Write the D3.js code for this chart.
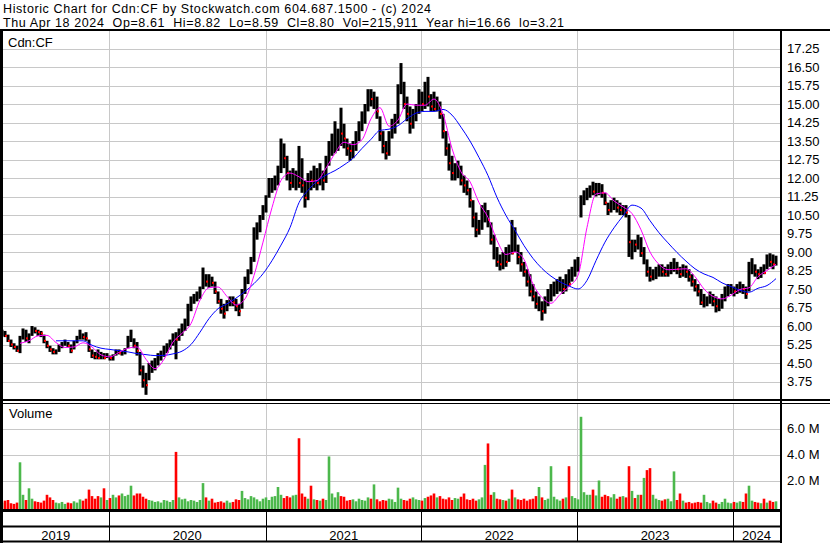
<!DOCTYPE html>
<html><head><meta charset="utf-8">
<script src="https://cdn.jsdelivr.net/npm/d3@7"></script>
<style>
body{margin:0;background:#fff}
svg{display:block}
text{font-family:Arial,"Liberation Sans",sans-serif;font-size:13px;fill:#000;white-space:pre}
text.hdr{font-size:12.5px;letter-spacing:0.6px}
</style>
</head><body><svg id="c" width="830" height="543"></svg>
<script>
// ---- DATA (one bar per ~week) ----
const highs = [5.85,5.80,5.65,5.45,5.30,5.20,5.60,5.90,5.85,5.70,6.00,5.95,5.85,5.80,5.65,5.40,5.20,5.10,5.05,5.25,5.35,5.45,5.35,5.25,5.40,5.60,5.85,5.70,5.75,5.45,
5.05,4.95,5.05,4.95,4.90,4.90,4.80,4.85,5.05,5.05,5.00,5.10,5.60,5.85,5.50,5.35,4.95,4.40,4.10,4.50,4.60,4.70,4.90,5.00,5.20,5.30,5.45,5.70,5.75,5.90,
6.10,6.30,6.90,7.20,7.30,7.40,7.60,8.37,8.10,8.10,8.00,7.80,7.40,7.10,6.90,7.05,7.20,7.20,7.10,6.90,7.50,8.00,8.30,8.80,10.00,10.20,10.50,10.90,11.30,12.00,
12.00,12.10,12.50,13.60,13.40,12.90,12.30,12.40,12.30,13.30,12.80,11.90,12.20,12.30,12.50,12.40,12.60,12.30,12.90,13.50,13.80,14.30,14.00,14.85,14.20,13.60,13.40,13.50,13.90,14.30,
14.70,15.00,15.60,15.60,15.50,15.30,14.50,13.90,13.50,13.90,14.40,14.60,15.80,16.66,15.90,15.30,14.90,14.80,15.00,15.60,15.50,15.90,16.10,15.40,15.50,15.30,15.10,14.60,13.90,13.40,
12.90,12.60,12.70,12.50,12.10,11.90,11.60,11.10,10.60,10.30,10.90,11.00,10.70,10.20,9.70,9.20,8.90,9.00,9.20,9.30,10.30,10.00,9.30,9.00,8.60,8.30,8.10,7.70,7.40,7.20,
7.00,7.20,7.50,7.70,7.80,7.90,8.00,7.90,8.10,8.30,8.40,8.70,8.80,11.30,11.50,11.60,11.70,11.85,11.80,11.80,11.75,11.40,11.00,11.10,11.20,11.10,11.00,10.90,10.90,10.50,
9.50,9.50,9.70,9.60,9.20,8.70,8.40,8.30,8.40,8.50,8.50,8.40,8.50,8.60,8.75,8.60,8.40,8.50,8.45,8.30,8.10,7.90,7.70,7.50,7.30,7.20,7.40,7.30,7.20,7.10,
7.30,7.60,7.70,7.70,7.60,7.70,7.80,7.70,7.60,8.60,8.75,8.50,8.30,8.40,8.50,8.90,8.95,8.90,8.85];
const lows = [5.60,5.55,5.35,5.15,5.05,4.95,4.90,5.45,5.35,5.30,5.60,5.70,5.60,5.55,5.30,5.10,4.95,4.85,4.85,4.95,5.10,5.20,5.15,4.90,5.05,5.30,5.45,5.45,5.40,4.95,
4.70,4.65,4.65,4.65,4.65,4.70,4.60,4.60,4.80,4.85,4.80,4.85,5.10,5.35,5.10,4.80,4.00,3.50,3.21,3.80,4.10,4.20,4.40,4.60,4.75,4.90,5.05,5.20,4.65,5.40,
5.60,5.80,6.00,6.60,6.90,7.00,7.10,7.50,7.60,7.55,7.60,7.30,6.90,6.50,6.30,6.60,6.80,6.80,6.60,6.40,6.70,7.30,7.70,8.10,8.60,9.50,9.80,10.30,10.60,11.20,
11.40,11.50,11.70,12.20,12.40,11.90,11.50,11.60,11.50,11.60,11.40,10.80,11.10,11.50,11.60,11.50,11.70,11.50,11.80,12.50,12.90,13.00,13.10,13.30,13.20,12.90,12.70,12.80,13.10,13.50,
13.90,14.20,14.70,14.90,14.80,14.40,13.50,13.00,12.75,12.90,13.60,13.80,14.20,15.40,14.80,14.30,13.80,14.00,14.30,14.60,14.70,14.80,14.90,14.70,14.70,14.70,14.40,13.60,12.90,12.30,
11.90,11.90,12.00,11.70,11.40,11.30,10.80,10.00,9.60,9.70,9.90,10.20,10.00,9.30,8.70,8.40,8.25,8.30,8.40,8.60,8.90,9.00,8.50,8.20,8.00,7.60,7.20,7.00,6.70,6.60,
6.22,6.50,6.80,7.00,7.20,7.30,7.40,7.30,7.40,7.60,7.80,8.00,8.20,10.40,10.90,11.10,11.20,11.30,11.25,11.30,11.20,10.90,10.50,10.60,10.70,10.60,10.50,10.50,10.40,8.80,
8.70,9.00,9.10,8.80,8.50,8.00,7.80,7.85,7.90,8.00,8.00,8.00,8.00,8.10,8.20,8.10,7.95,8.00,7.95,7.80,7.60,7.40,7.20,6.85,6.75,6.80,6.90,6.80,6.55,6.60,
6.70,7.00,7.20,7.30,7.20,7.30,7.35,7.30,7.10,7.40,8.10,8.00,7.90,7.95,8.10,8.30,8.40,8.30,8.45];
const closes = [5.75,5.60,5.40,5.25,5.15,5.00,5.50,5.70,5.50,5.60,5.90,5.80,5.75,5.70,5.40,5.20,5.05,4.95,4.95,5.15,5.30,5.35,5.20,5.00,5.30,5.50,5.60,5.55,5.50,5.05,
4.80,4.75,4.70,4.75,4.70,4.80,4.70,4.75,4.95,4.90,4.95,5.00,5.40,5.60,5.20,5.00,4.20,3.80,3.60,4.20,4.40,4.60,4.70,4.85,5.00,5.20,5.30,5.60,5.45,5.70,
5.90,6.10,6.70,7.00,7.10,7.25,7.40,7.90,7.80,7.85,7.75,7.40,7.00,6.70,6.50,6.90,7.00,6.95,6.80,6.60,7.30,7.80,8.10,8.60,9.70,9.90,10.30,10.70,11.10,11.70,
11.80,11.90,12.30,13.00,12.80,12.20,11.80,12.00,12.00,11.80,11.70,11.20,12.10,11.90,12.20,11.80,12.30,11.90,12.60,13.20,13.50,13.60,13.90,13.80,13.60,13.20,13.10,13.20,13.60,14.00,
14.30,14.80,15.30,15.20,15.30,14.70,13.80,13.30,13.00,13.60,14.10,14.30,15.60,15.90,15.00,14.60,14.20,14.50,14.80,15.20,15.00,15.50,15.30,14.90,14.80,15.00,14.60,13.90,13.20,12.60,
12.20,12.30,12.40,11.90,11.70,11.50,11.10,10.40,9.90,10.00,10.60,10.80,10.30,9.50,9.55,8.60,8.50,8.70,8.60,9.00,8.95,9.20,8.80,8.50,8.20,7.80,7.40,7.20,6.90,7.00,
6.60,6.90,7.20,7.40,7.50,7.60,7.70,7.50,7.80,7.70,8.20,8.50,8.60,11.00,11.30,11.40,11.50,11.45,11.50,11.70,11.40,11.00,10.70,10.90,10.90,10.80,10.70,10.80,10.60,9.40,
9.45,9.30,9.50,8.95,9.05,8.20,8.00,8.10,8.20,8.30,8.20,8.10,8.30,8.40,8.50,8.30,8.10,8.30,8.20,8.00,7.80,7.60,7.40,6.95,7.00,7.05,7.20,7.00,6.80,6.90,
7.10,7.40,7.50,7.50,7.40,7.50,7.60,7.50,7.30,8.30,8.40,8.20,8.10,8.20,8.15,8.70,8.60,8.50,8.80];
const volumes = [0.3,0.45,0.5,0.25,0.2,0.3,3.4,0.9,0.5,1.4,
0.6,0.4,0.35,0.3,0.45,0.9,0.7,0.5,0.3,0.25,
0.35,0.2,0.3,0.25,0.4,0.3,0.55,0.45,0.6,1.3,
0.8,0.6,0.8,0.7,1.4,0.5,
0.65,0.9,0.7,0.85,1.0,0.8,0.9,1.6,0.85,1.0,
1.0,0.75,0.6,0.5,0.45,0.35,0.4,0.3,0.5,0.45,
0.35,0.5,4.2,0.7,0.55,0.6,0.4,0.5,0.45,0.35,
0.5,1.8,0.7,0.45,0.6,0.3,0.35,0.4,0.3,0.45,
0.3,0.35,0.55,0.5,1.2,0.65,0.55,0.8,0.7,0.55,
0.4,0.6,0.7,0.5,0.75,0.8,1.5,0.9,0.65,0.8,
0.7,0.85,0.9,5.25,1.0,0.75,0.6,1.6,0.55,0.5,
0.45,0.6,0.5,3.85,1.0,0.7,1.1,0.8,0.75,0.45,
0.5,0.55,0.4,0.6,0.5,0.45,0.7,0.6,1.7,0.55,
0.4,0.5,0.45,0.6,0.55,0.35,1.45,0.6,0.5,0.45,
0.6,0.7,0.55,0.5,0.45,0.65,0.75,0.85,1.0,0.7,
0.8,0.6,0.55,0.7,0.5,0.65,0.6,0.75,1.0,0.55,
0.5,0.6,0.45,0.55,0.7,3.2,4.85,0.9,1.1,0.6,
0.55,0.5,0.45,0.6,1.3,0.7,0.55,0.5,0.6,0.45,
0.55,0.6,0.8,1.5,0.7,0.5,0.6,3.1,0.75,0.55,
0.45,0.6,0.7,3.1,0.8,0.65,0.55,
6.9,1.1,0.9,0.9,1.3,0.85,2.0,0.75,0.9,0.8,
0.7,0.95,0.6,0.75,0.8,0.7,3.1,1.2,0.65,0.9,
0.9,2.2,2.8,2.95,0.9,0.6,0.5,0.45,0.55,0.6,
0.4,2.7,0.5,1.0,0.45,0.3,0.35,0.25,0.3,0.35,
0.3,0.9,0.35,0.25,0.45,0.3,0.2,0.35,0.6,0.3,
0.25,0.35,0.3,0.4,0.35,1.0,1.6,0.45,0.35,0.3,
0.25,0.6,0.3,0.45,0.35,0.4];
// moving averages, every 3rd bar
const maStep = 3;
const maFast = [null,null,5.30,5.40,5.60,5.62,5.33,5.13,5.15,5.32,5.15,4.83,4.75,4.93,5.10,5.15,4.65,4.27,4.65,5.35,5.70,6.10,7.05,7.55,7.58,7.20,6.85,7.10,8.05,9.40,10.80,11.90,12.20,12.05,11.85,11.90,12.40,13.00,13.45,13.35,13.55,14.40,14.85,14.10,14.35,15.00,14.95,14.95,15.20,14.60,13.20,12.25,11.85,11.00,10.40,9.47,8.90,9.00,8.70,7.70,7.15,6.92,7.28,7.60,8.05,10.00,11.35,11.40,11.07,10.83,10.56,9.90,9.00,8.50,8.28,8.30,8.32,8.00,7.50,7.20,7.10,7.25,7.48,7.55,8.00,8.25,8.50];
const maSlow = [null,null,null,null,null,null,5.40,5.40,5.40,5.40,5.22,5.10,5.05,5.00,4.95,4.88,4.84,4.80,4.81,4.87,4.98,5.25,5.75,6.30,6.70,6.90,7.13,7.40,7.72,8.12,8.65,9.28,9.99,11.00,11.50,11.87,12.12,12.30,12.53,12.80,13.20,13.57,13.93,13.98,14.12,14.40,14.63,14.70,14.70,14.78,14.55,14.06,13.50,12.83,12.10,11.21,10.48,9.88,9.26,8.74,8.33,8.02,7.79,7.62,7.50,7.85,8.65,9.40,9.98,10.46,10.90,10.78,10.27,9.78,9.37,8.98,8.63,8.32,8.11,7.97,7.75,7.60,7.45,7.37,7.53,7.64,7.92];
const priceTicks = [3.75,4.50,5.25,6.00,6.75,7.50,8.25,9.00,9.75,10.50,11.25,12.00,12.75,13.50,14.25,15.00,15.75,16.50,17.25];
const volTicks = [2,4,6];
const years = ["2019","2020","2021","2022","2023","2024"];
const yearBreaks = [36, 88.5, 140.3, 192.2, 244.2]; // bar index where each new year starts
const header1 = "Historic Chart for Cdn:CF by Stockwatch.com 604.687.1500 - (c) 2024";
const header2 = "Thu Apr 18 2024  Op=8.61  Hi=8.82  Lo=8.59  Cl=8.80  Vol=215,911  Year hi=16.66  lo=3.21";
const symbol = "Cdn:CF";

// ---- DRAW ----
const svg = d3.select("#c");
const n = highs.length;
const PL = 3, PR = 780;
const x = d3.scaleLinear().domain([0, n - 1]).range([2, 776]);
const y = d3.scaleLinear().domain([3.75, 17.25]).range([381.5, 48.5]);
const yv = d3.scaleLinear().domain([0, 6]).range([506.5, 428.5]);
const crisp = v => Math.round(v) + 0.5;

svg.append("rect").attr("width", 830).attr("height", 543).attr("fill", "#fff");

// header
svg.append("text").attr("class", "hdr").attr("x", 3).attr("y", 13).text(header1);
svg.append("text").attr("class", "hdr").attr("x", 3).attr("y", 27).text(header2);

const grid = svg.append("g").attr("stroke", "#c8c8c8").attr("stroke-width", 1);
grid.selectAll("line.h").data(priceTicks).join("line")
  .attr("x1", PL).attr("x2", PR).attr("y1", d => crisp(y(d))).attr("y2", d => crisp(y(d)));
grid.selectAll("line.v").data(volTicks).join("line")
  .attr("x1", PL).attr("x2", PR).attr("y1", d => crisp(yv(d))).attr("y2", d => crisp(yv(d)));
yearBreaks.forEach(b => {
  const xx = crisp(x(b) - 1.5);
  grid.append("line").attr("x1", xx).attr("x2", xx).attr("y1", 31).attr("y2", 399);
  grid.append("line").attr("x1", xx).attr("x2", xx).attr("y1", 404).attr("y2", 509);
  svg.append("line").attr("x1", xx).attr("x2", xx).attr("y1", 511).attr("y2", 541).attr("stroke", "#000");
});

svg.append("text").attr("x", 8).attr("y", 46.5).text(symbol);

// price bars
const bars = svg.append("g");
bars.selectAll("rect").data(d3.range(n)).join("rect")
  .attr("x", i => x(i) - 1.5).attr("width", 3)
  .attr("y", i => y(highs[i])).attr("height", i => Math.max(1, y(lows[i]) - y(highs[i])))
  .attr("fill", "#000");
bars.selectAll("rect.c").data(d3.range(1, n).filter(i => closes[i] < closes[i - 1])).join("rect")
  .attr("class", "c")
  .attr("x", i => x(i)).attr("width", 2)
  .attr("y", i => y(closes[i]) - 1).attr("height", 2)
  .attr("fill", "#ff0000");

// moving averages
const maLine = d3.line()
  .defined(d => d != null)
  .x((d, k) => x(k * maStep))
  .y(d => y(d))
  .curve(d3.curveMonotoneX);
svg.append("path").datum(maSlow).attr("d", maLine).attr("fill", "none").attr("stroke", "#0000ff").attr("stroke-width", 1);
svg.append("path").datum(maFast).attr("d", maLine).attr("fill", "none").attr("stroke", "#ff00ff").attr("stroke-width", 1);

// volume bars
svg.append("g").selectAll("rect").data(d3.range(n)).join("rect")
  .attr("x", i => x(i) - 1.3).attr("width", 2.6)
  .attr("y", i => yv(volumes[i])).attr("height", i => 510 - yv(volumes[i]))
  .attr("fill", i => (i === 0 || closes[i] >= closes[i - 1]) ? "#4cb84c" : "#ff0000");

svg.append("text").attr("x", 9).attr("y", 418).text("Volume");

svg.append("g").selectAll("text").data(priceTicks).join("text")
  .attr("x", 787).attr("y", d => y(d) + 4.5).text(d => d.toFixed(2));
svg.append("g").selectAll("text").data(volTicks).join("text")
  .attr("x", 787).attr("y", d => yv(d) + 4.5).text(d => d.toFixed(1) + " M");

const bounds = [0, ...yearBreaks.map(b => x(b) - 1.5), PR];
svg.append("g").selectAll("text").data(years).join("text")
  .attr("text-anchor", "middle")
  .attr("x", (d, i) => (Math.max(PL, bounds[i]) + bounds[i + 1]) / 2)
  .attr("y", 539.5).text(d => d);

const fr = svg.append("g").attr("stroke", "#000");
fr.append("line").attr("x1", 0).attr("x2", 830).attr("y1", 30).attr("y2", 30).attr("stroke-width", 2);
fr.append("line").attr("x1", 0).attr("x2", 830).attr("y1", 400).attr("y2", 400).attr("stroke-width", 2);
fr.append("line").attr("x1", 0).attr("x2", 830).attr("y1", 403.5).attr("y2", 403.5).attr("stroke-width", 1);
fr.append("line").attr("x1", 0).attr("x2", PR).attr("y1", 510.5).attr("y2", 510.5).attr("stroke-width", 3);
fr.append("line").attr("x1", 0).attr("x2", PR).attr("y1", 526.5).attr("y2", 526.5).attr("stroke-width", 2);
fr.append("line").attr("x1", 0).attr("x2", PR).attr("y1", 541.5).attr("y2", 541.5).attr("stroke-width", 2);
fr.append("line").attr("x1", 1.5).attr("x2", 1.5).attr("y1", 29).attr("y2", 543).attr("stroke-width", 3);
fr.append("line").attr("x1", 781).attr("x2", 781).attr("y1", 29).attr("y2", 543).attr("stroke-width", 2);
</script>
</body></html>
